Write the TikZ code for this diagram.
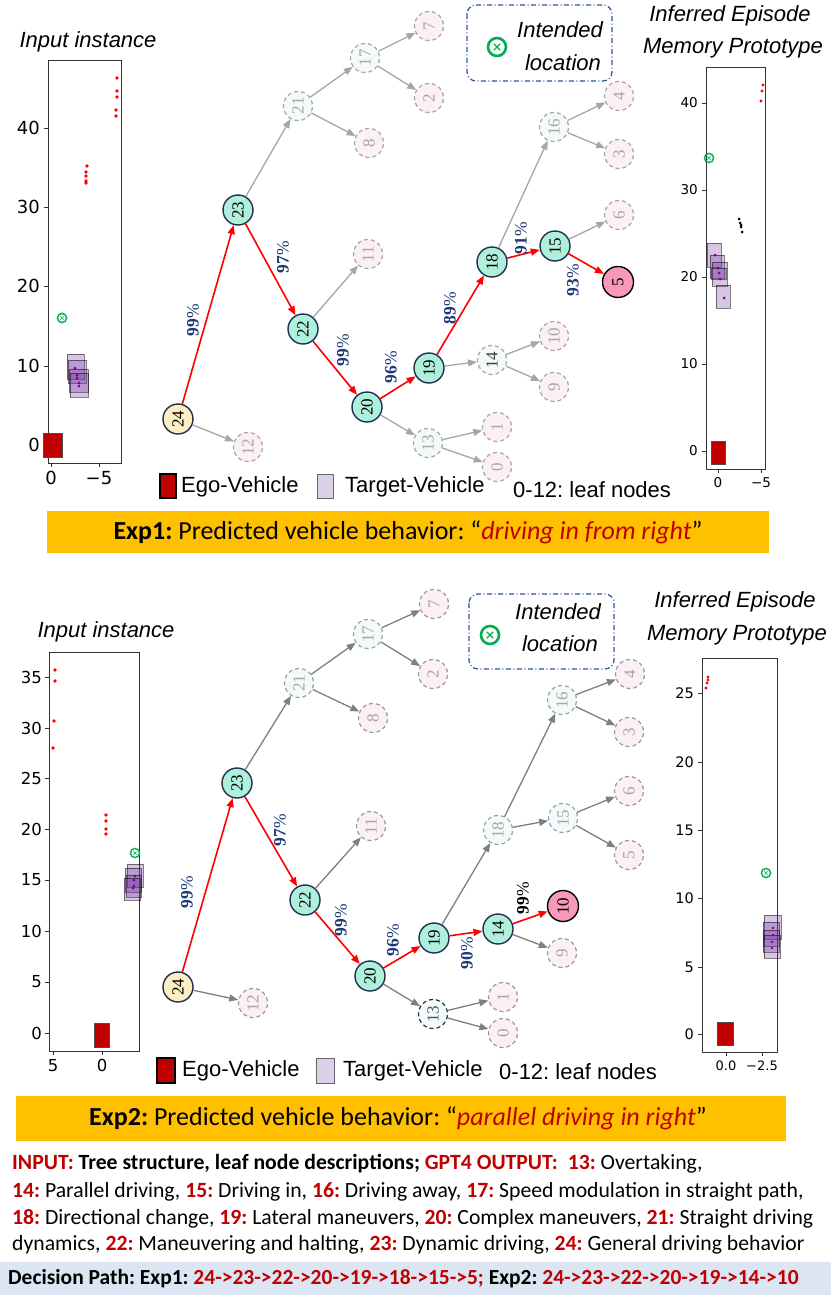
\documentclass[tikz,border=0pt]{standalone}
\usepackage{fontspec}
\setmainfont{Liberation Serif}
\newfontfamily\fArial{Liberation Sans}
\newfontfamily\fDeja{DejaVu Sans}
\newfontfamily\fCal{Carlito}
\usetikzlibrary{arrows.meta}
\definecolor{mint}{HTML}{AFF0DC}
\definecolor{paleY}{HTML}{FCEFC6}
\definecolor{pinkF}{HTML}{F799B8}
\definecolor{leafF}{HTML}{FCF0F3}
\definecolor{ghostF}{HTML}{F3FAF7}
\definecolor{navyB}{HTML}{1F3050}
\definecolor{pctC}{HTML}{1F3A78}
\definecolor{grayA}{HTML}{A6A6A6}
\definecolor{grayB}{HTML}{7F7F7F}
\definecolor{blueG}{HTML}{8FA3BF}
\definecolor{gboxC}{HTML}{2F5597}
\definecolor{greenX}{HTML}{00B050}
\definecolor{egoC}{HTML}{C00000}
\definecolor{purpC}{HTML}{7030A0}
\definecolor{purpD}{HTML}{800080}
\definecolor{tvLeg}{HTML}{DCD0E8}
\definecolor{bannerC}{HTML}{FFC000}
\definecolor{txtRed}{HTML}{C00000}
\definecolor{pathBG}{HTML}{DCE6F2}
\newcommand{\rn}[1]{{\bfseries\color{txtRed}#1}}
\tikzset{
  tn/.style={circle, minimum size=30pt, inner sep=0pt, font=\fontsize{17}{17}\selectfont, rotate=90},
  act/.style={tn, fill=mint, draw=navyB, line width=1.4pt},
  rootn/.style={tn, fill=paleY, draw=navyB, line width=1.4pt},
  fin/.style={tn, fill=pinkF, draw=black, line width=1.4pt, minimum size=31pt},
  dsh/.style={dash pattern=on 4pt off 3pt, line width=1.2pt},
  leafa/.style={tn, dsh, fill=leafF, draw=grayA, text=grayA, minimum size=29pt},
  leafb/.style={tn, dsh, fill=leafF, draw=grayB!80, text=grayA, minimum size=29pt},
  ghosta/.style={tn, dsh, fill=ghostF, draw=grayA, text=grayA, minimum size=29pt},
  ghostb/.style={tn, dsh, fill=ghostF, draw=blueG, text=grayA, minimum size=29pt},
  rE/.style={draw=red, line width=1.6pt, -{Triangle[length=9pt,width=7pt]}},
  gEa/.style={draw=grayA, line width=1.3pt, -{Triangle[length=9pt,width=7pt]}},
  gEb/.style={draw=grayB, line width=1.3pt, -{Triangle[length=9pt,width=7pt]}},
  pct/.style={font=\fontsize{17.5}{17.5}\selectfont, text=pctC, rotate=90, inner sep=0pt},
  axisf/.style={draw=black!80, line width=0.9pt},
  tick/.style={draw=black!80, line width=0.9pt},
  tv/.style={fill=purpC, fill opacity=0.28, draw=black, draw opacity=0.5, line width=0.8pt},
  ego/.style={fill=egoC, draw=black!70, line width=0.8pt},
  rdot/.style={fill=red},
  pdot/.style={fill=purpD},
  ttl/.style={font=\fArial\itshape\fontsize{22}{22}\selectfont, inner sep=0pt},
  legt/.style={font=\fArial\fontsize{22}{22}\selectfont, inner sep=0pt, anchor=west},
  ibox/.style={draw=gboxC, line width=1.2pt, rounded corners=9pt, dash pattern=on 5pt off 2.5pt on 1pt off 2.5pt},
  smalltgt/.pic={\draw[greenX, line width=1.4pt] (0,0) circle (4.6);
     \draw[greenX, line width=0.6pt] (-1.7,-1.7) -- (1.7,1.7) (-1.7,1.7) -- (1.7,-1.7);},
  bigtgt/.pic={\draw[greenX, line width=2.6pt] (0,0) circle (9);
     \draw[greenX, line width=1.1pt] (-3.2,-3.2) -- (3.2,3.2) (-3.2,3.2) -- (3.2,-3.2);},
}
\begin{document}
\frenchspacing
\begin{tikzpicture}[x=1pt,y=-1pt]
\useasboundingbox (0,0) rectangle (831,1295);
\fill[white] (0,0) rectangle (831,1295);

% ================= EXP1 =================
% --- Input instance plot (top-left)
\node[ttl] (t1) at (88,42) {Input instance};
\draw[axisf] (48,60) rectangle (121,463);
\foreach \yy/\lab in {128/40,207/30,286/20,366/10,445/0}{
  \draw[tick] (48,\yy) -- (44,\yy);
  \node[anchor=east, inner sep=0pt, font=\fDeja\fontsize{18}{18}\selectfont] (ty1\lab) at (40,\yy) {\lab};}
\foreach \xx/\lab/\nm in {51/0/a,99/−5/b}{
  \draw[tick] (\xx,463) -- (\xx,467);
  \node[anchor=north, inner sep=0pt, font=\fDeja\fontsize{18}{18}\selectfont] (tx1\nm) at (\xx,471) {\lab};}
\foreach \px/\py in {117/78,117/91,117/97,116/110,116/116,87/166,86/172,86/176,86/181,86/183}{
  \fill[rdot] (\px,\py) circle (1.8);}
\pic at (62,318) {smalltgt};
\filldraw[tv] (67,354) rectangle (84,379);
\filldraw[tv] (68,360) rectangle (86,383);
\filldraw[tv] (69,369) rectangle (88,392);
\filldraw[tv] (70,373) rectangle (88,397);
\foreach \px/\py in {75/368,77/375,77/378,79/383,79/386}{
  \fill[pdot] (\px,\py) circle (1.5);}
\filldraw[ego] (43,433) rectangle (62,457);

% --- Tree Exp1
\node[rootn] (a24) at (178,419) {24};
\node[act] (a23) at (238,210) {23};
\node[act] (a22) at (303,329) {22};
\node[act] (a20) at (367,407) {20};
\node[act] (a19) at (429,368) {19};
\node[act] (a18) at (492,262) {18};
\node[act] (a15) at (555,246) {15};
\node[fin] (a5) at (618,282) {5};
\node[ghosta] (a21) at (298,106) {21};
\node[ghosta] (a17) at (365,58) {17};
\node[ghosta] (a16) at (554,127) {16};
\node[ghosta, text=black!75] (a14) at (492,360) {14};
\node[ghosta] (a13) at (428,443) {13};
\node[leafa] (a7) at (429,26) {7};
\node[leafa] (a2) at (429,98) {2};
\node[leafa] (a8) at (369,143) {8};
\node[leafa] (a11) at (368,254) {11};
\node[leafa] (a12) at (248,447) {12};
\node[leafa] (a1) at (497,427) {1};
\node[leafa] (a0) at (497,467) {0};
\node[leafa] (a10) at (554,336) {10};
\node[leafa] (a9) at (554,387) {9};
\node[leafa] (a4) at (619,96) {4};
\node[leafa] (a3) at (619,154) {3};
\node[leafa] (a6) at (619,215) {6};
\foreach \s/\t in {a24/a23,a23/a22,a22/a20,a20/a19,a19/a18,a18/a15,a15/a5}{
  \draw[rE] (\s) -- (\t);}
\foreach \s/\t in {a23/a21,a21/a17,a21/a8,a17/a7,a17/a2,a22/a11,a24/a12,a20/a13,a13/a1,a13/a0,a19/a14,a14/a10,a14/a9,a18/a16,a16/a4,a16/a3,a15/a6}{
  \draw[gEa] (\s) -- (\t);}
\node[pct] (pa1) at (193,320) {\textbf{99}\%};
\node[pct] (pa2) at (283,257) {\textbf{97}\%};
\node[pct] (pa3) at (343,350) {\textbf{99}\%};
\node[pct] (pa4) at (391,367) {\textbf{96}\%};
\node[pct] (pa5) at (450,308) {\textbf{89}\%};
\node[pct] (pa6) at (521,238) {\textbf{91}\%};
\node[pct] (pa7) at (573,280) {\textbf{93}\%};

% --- Intended location box (top)
\draw[ibox] (467,5) rectangle (612,81);
\pic at (497,47) {bigtgt};
\node[ttl] (il1) at (560,30) {Intended};
\node[ttl] (il2) at (563,63) {location};

% --- Inferred plot (top-right)
\node[ttl] (t2a) at (730,16) {Inferred Episode};
\node[ttl] (t2b) at (733,48) {Memory Prototype};
\draw[axisf] (706,67) rectangle (765,469);
\foreach \yy/\lab in {103/40,190/30,277/20,364/10,451/0}{
  \draw[tick] (706,\yy) -- (702,\yy);
  \node[anchor=east, inner sep=0pt, font=\fDeja\fontsize{13.5}{13.5}\selectfont] (ty2\lab) at (698,\yy) {\lab};}
\foreach \xx/\lab/\nm in {718/0/a,761/−5/b}{
  \draw[tick] (\xx,469) -- (\xx,473);
  \node[anchor=north, inner sep=0pt, font=\fDeja\fontsize{13.5}{13.5}\selectfont] (tx2\nm) at (\xx,477) {\lab};}
\foreach \px/\py in {763/85,762/91,761/101}{
  \fill[rdot] (\px,\py) circle (1.6);}
\foreach \px/\py in {739/219,740/223,741/225,741/227,742/232}{
  \fill[black] (\px,\py) circle (1.5);}
\pic at (709,158) {smalltgt};
\filldraw[tv] (707,243) rectangle (721,267);
\filldraw[tv] (710,255) rectangle (724,278);
\filldraw[tv] (712,262) rectangle (727,286);
\filldraw[tv] (711,268) rectangle (726,279);
\filldraw[tv] (716,285) rectangle (730,308);
\foreach \px/\py in {715/255,718/268,719/273,720/279,724/298}{
  \fill[pdot] (\px,\py) circle (1.5);}
\filldraw[ego] (711,441) rectangle (725,464);

% --- Legend (top)
\filldraw[fill=egoC, draw=black, line width=1.2pt] (160,474) rectangle (176,498);
\node[legt] (lg1) at (181,487) {Ego-Vehicle};
\filldraw[fill=tvLeg, draw=black!60, line width=1pt] (317,474) rectangle (333,498);
\node[legt] (lg2) at (345,487) {Target-Vehicle};
\node[legt] (lg3) at (513,490) {0-12: leaf nodes};

% --- Banner (top)
\fill[bannerC] (47,511) rectangle (769,553);
\node[font=\fCal\fontsize{26}{26}\selectfont, inner sep=0pt] (bn1) at (408,532)
  {\textbf{Exp1:} Predicted vehicle behavior: “{\color{txtRed}\itshape driving in from right}”};

% ================= EXP2 =================
% --- Input instance plot (bottom-left)
\node[ttl] (t3) at (106,632) {Input instance};
\draw[axisf] (49,652) rectangle (139,1051);
\foreach \yy/\lab in {677/35,728/30,778/25,829/20,880/15,931/10,982/5,1033/0}{
  \draw[tick] (49,\yy) -- (45,\yy);
  \node[anchor=east, inner sep=0pt, font=\fDeja\fontsize{16.5}{16.5}\selectfont] (ty3\lab) at (42,\yy) {\lab};}
\foreach \xx/\lab/\nm in {53/5/a,102/0/b}{
  \draw[tick] (\xx,1051) -- (\xx,1055);
  \node[anchor=north, inner sep=0pt, font=\fDeja\fontsize{16.5}{16.5}\selectfont] (tx3\nm) at (\xx,1059) {\lab};}
\foreach \px/\py in {55/670,55/681,54/721,53/748,106/815,106/821,106/829,106/834}{
  \fill[rdot] (\px,\py) circle (1.8);}
\pic at (135,853) {smalltgt};
\filldraw[tv] (127,864) rectangle (143,887);
\filldraw[tv] (125,868) rectangle (141,892);
\filldraw[tv] (126,875) rectangle (141,897);
\filldraw[tv] (124,878) rectangle (140,900);
\foreach \px/\py in {135/876,134/880,134/886,133/888}{
  \fill[pdot] (\px,\py) circle (1.5);}
\filldraw[ego] (94,1023) rectangle (109,1047);

% --- Tree Exp2
\node[rootn] (b24) at (178,987) {24};
\node[act] (b23) at (237,783) {23};
\node[act] (b22) at (305,900) {22};
\node[act] (b20) at (370,976) {20};
\node[act] (b19) at (434,938) {19};
\node[act] (b14) at (498,929) {14};
\node[fin] (b10) at (563,906) {10};
\node[ghostb] (b21) at (299,683) {21};
\node[ghostb] (b17) at (368,634) {17};
\node[ghostb] (b16) at (562,700) {16};
\node[ghostb] (b18) at (498,830) {18};
\node[ghostb] (b15) at (563,818) {15};
\node[ghostb, draw=navyB, text=navyB!80] (b13) at (433,1014) {13};
\node[leafb] (b7) at (434,604) {7};
\node[leafb] (b2) at (433,674) {2};
\node[leafb] (b8) at (373,718) {8};
\node[leafb] (b11) at (371,826) {11};
\node[leafb] (b12) at (253,1003) {12};
\node[leafb] (b1) at (503,997) {1};
\node[leafb] (b0) at (503,1033) {0};
\node[leafb] (b9) at (562,953) {9};
\node[leafb] (b4) at (630,674) {4};
\node[leafb] (b3) at (629,732) {3};
\node[leafb] (b6) at (629,791) {6};
\node[leafb] (b5) at (629,855) {5};
\foreach \s/\t in {b24/b23,b23/b22,b22/b20,b20/b19,b19/b14,b14/b10}{
  \draw[rE] (\s) -- (\t);}
\foreach \s/\t in {b23/b21,b21/b17,b21/b8,b17/b7,b17/b2,b22/b11,b24/b12,b20/b13,b13/b1,b13/b0,b19/b18,b18/b16,b18/b15,b16/b4,b16/b3,b15/b6,b15/b5,b14/b9}{
  \draw[gEb] (\s) -- (\t);}
\node[pct] (pb1) at (187,892) {\textbf{99}\%};
\node[pct] (pb2) at (280,830) {\textbf{97}\%};
\node[pct] (pb3) at (341,920) {\textbf{99}\%};
\node[pct] (pb4) at (393,940) {\textbf{96}\%};
\node[pct] (pb5) at (467,953) {\textbf{90}\%};
\node[pct, text=black] (pb6) at (523,898) {\textbf{99}\%};

% --- Intended location box (bottom)
\draw[ibox] (469,594) rectangle (614,669);
\pic at (490,635) {bigtgt};
\node[ttl] (il3) at (558,612) {Intended};
\node[ttl] (il4) at (560,644) {location};

% --- Inferred plot (bottom-right)
\node[ttl] (t4a) at (735,602) {Inferred Episode};
\node[ttl] (t4b) at (737,635) {Memory Prototype};
\draw[axisf] (702,658) rectangle (777,1052);
\foreach \yy/\lab in {693/25,762/20,830/15,898/10,967/5,1034/0}{
  \draw[tick] (702,\yy) -- (698,\yy);
  \node[anchor=east, inner sep=0pt, font=\fDeja\fontsize{14.5}{14.5}\selectfont] (ty4\lab) at (694,\yy) {\lab};}
\foreach \xx/\lab/\nm in {726/0.0/a,762/−2.5/b}{
  \draw[tick] (\xx,1052) -- (\xx,1056);
  \node[anchor=north, inner sep=0pt, font=\fDeja\fontsize{13}{13}\selectfont] (tx4\nm) at (\xx,1061) {\lab};}
\foreach \px/\py in {706/688,707/683,708/680,708/677}{
  \fill[rdot] (\px,\py) circle (1.6);}
\pic at (766,873) {smalltgt};
\filldraw[tv] (764,915) rectangle (781,939);
\filldraw[tv] (763,922) rectangle (779,946);
\filldraw[tv] (763,930) rectangle (779,952);
\filldraw[tv] (764,935) rectangle (780,958);
\foreach \px/\py in {773/928,773/935,772/942,772/948}{
  \fill[pdot] (\px,\py) circle (1.4);}
\filldraw[ego] (717,1022) rectangle (733,1045);

% --- Legend (bottom)
\filldraw[fill=egoC, draw=black, line width=1.2pt] (157,1058) rectangle (175,1083);
\node[legt] (lg4) at (182,1071) {Ego-Vehicle};
\filldraw[fill=tvLeg, draw=black!60, line width=1pt] (316,1058) rectangle (334,1083);
\node[legt] (lg5) at (343,1071) {Target-Vehicle};
\node[legt] (lg6) at (499,1072) {0-12: leaf nodes};

% --- Banner (bottom)
\fill[bannerC] (16,1096) rectangle (786,1141);
\node[font=\fCal\fontsize{26}{26}\selectfont, inner sep=0pt] (bn2) at (398,1118)
  {\textbf{Exp2:} Predicted vehicle behavior: “{\color{txtRed}\itshape parallel driving in right}”};

% --- Text block
\begin{scope}[every node/.style={anchor=west, inner sep=0pt, font=\fCal\fontsize{21.7}{21.7}\selectfont}]
\node (tb1) at (12,1164) {\rn{INPUT:} \textbf{Tree structure, leaf node descriptions;} \rn{GPT4 OUTPUT:}\ \ \rn{13:} Overtaking,};
\node (tb2) at (12,1192) {\rn{14:} Parallel driving, \rn{15:} Driving in, \rn{16:} Driving away, \rn{17:} Speed modulation in straight path,};
\node (tb3) at (12,1219) {\rn{18:} Directional change, \rn{19:} Lateral maneuvers, \rn{20:} Complex maneuvers, \rn{21:} Straight driving};
\node (tb4) at (12,1245) {dynamics, \rn{22:} Maneuvering and halting, \rn{23:} Dynamic driving, \rn{24:} General driving behavior};
\end{scope}

% --- Decision path
\fill[pathBG] (0,1262) rectangle (831,1295);
\node[anchor=west, inner sep=0pt, font=\fCal\bfseries\fontsize{21.5}{21.5}\selectfont] (dp) at (8,1279)
  {Decision Path: Exp1: {\color{txtRed}24->23->22->20->19->18->15->5;} Exp2: {\color{txtRed}24->23->22->20->19->14->10}};
\end{tikzpicture}
\end{document}
